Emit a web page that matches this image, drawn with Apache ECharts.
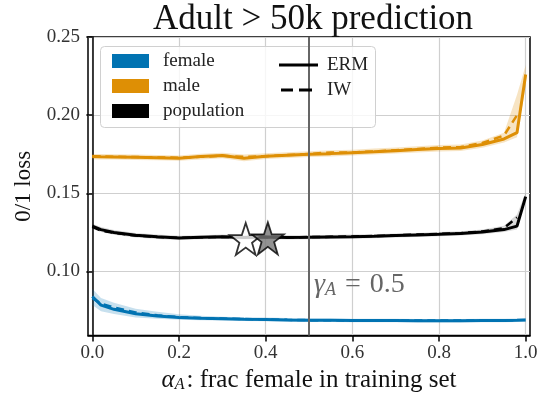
<!DOCTYPE html>
<html>
<head>
<meta charset="utf-8">
<script src="https://cdn.jsdelivr.net/npm/echarts@6/dist/echarts.min.js"></script>
<style>
  html, body { margin: 0; padding: 0; background: #fff; }
  #chart { width: 542px; height: 398px; }
</style>
</head>
<body>
<div id="chart"></div>
<script>
// alpha_A grid (frac female in training set)
const alpha = [0, 0.02, 0.05, 0.1, 0.15, 0.2, 0.25, 0.3, 0.35, 0.4, 0.45, 0.5, 0.55, 0.6, 0.65, 0.7, 0.75, 0.8, 0.85, 0.9, 0.95, 0.98, 1.0]

const femaleERM = [0.0840, 0.0785, 0.0758, 0.0730, 0.0716, 0.0706, 0.0701, 0.0698, 0.0695, 0.0693, 0.0690, 0.0688, 0.0688, 0.0687, 0.0686, 0.0686, 0.0685, 0.0685, 0.0685, 0.0686, 0.0687, 0.0688, 0.0690]
const femaleIW = [0.0830, 0.0795, 0.0770, 0.0738, 0.0720, 0.0708, 0.0702, 0.0699, 0.0696, 0.0694, 0.0691, 0.0689, 0.0688, 0.0687, 0.0687, 0.0686, 0.0686, 0.0686, 0.0686, 0.0686, 0.0687, 0.0689, null]
const femaleLo = [0.0785, 0.0745, 0.0728, 0.0706, 0.0697, 0.0691, 0.0688, 0.0686, 0.0683, 0.0681, 0.0679, 0.0677, 0.0677, 0.0676, 0.0675, 0.0675, 0.0674, 0.0674, 0.0674, 0.0675, 0.0676, 0.0677, 0.0678]
const femaleHi = [0.0890, 0.0830, 0.0800, 0.0762, 0.0742, 0.0726, 0.0717, 0.0711, 0.0707, 0.0705, 0.0702, 0.0699, 0.0699, 0.0698, 0.0697, 0.0697, 0.0696, 0.0696, 0.0696, 0.0697, 0.0698, 0.0699, 0.0702]

const maleERM = [0.1735, 0.1734, 0.1733, 0.1731, 0.1728, 0.1725, 0.1735, 0.1742, 0.1724, 0.1737, 0.1744, 0.1750, 0.1754, 0.1760, 0.1766, 0.1773, 0.1780, 0.1787, 0.1790, 0.1812, 0.1848, 0.1888, 0.2260]
const maleIW = [0.1738, 0.1736, 0.1734, 0.1732, 0.1730, 0.1728, 0.1734, 0.1740, 0.1734, 0.1738, 0.1745, 0.1752, 0.1762, 0.1762, 0.1768, 0.1776, 0.1783, 0.1792, 0.1796, 0.1822, 0.1870, 0.2000, null]
const maleLo = [0.1718, 0.1717, 0.1716, 0.1714, 0.1711, 0.1708, 0.1717, 0.1724, 0.1706, 0.1719, 0.1726, 0.1732, 0.1736, 0.1742, 0.1748, 0.1755, 0.1761, 0.1768, 0.1771, 0.1792, 0.1825, 0.1858, 0.2190]
const maleHi = [0.1752, 0.1751, 0.1750, 0.1748, 0.1745, 0.1742, 0.1753, 0.1760, 0.1748, 0.1756, 0.1763, 0.1769, 0.1776, 0.1779, 0.1786, 0.1793, 0.1801, 0.1809, 0.1813, 0.1838, 0.1888, 0.2130, 0.2320]

const popERM = [0.1290, 0.1268, 0.1250, 0.1232, 0.1222, 0.1215, 0.1219, 0.1222, 0.1218, 0.1220, 0.1218, 0.1219, 0.1221, 0.1223, 0.1226, 0.1230, 0.1234, 0.1238, 0.1243, 0.1252, 0.1268, 0.1290, 0.1479]
const popIW = [0.1285, 0.1262, 0.1247, 0.1230, 0.1221, 0.1216, 0.1219, 0.1221, 0.1220, 0.1220, 0.1219, 0.1220, 0.1222, 0.1224, 0.1227, 0.1231, 0.1236, 0.1240, 0.1245, 0.1256, 0.1278, 0.1345, null]
const popLo = [0.1274, 0.1252, 0.1235, 0.1218, 0.1208, 0.1202, 0.1206, 0.1208, 0.1205, 0.1207, 0.1205, 0.1206, 0.1208, 0.1210, 0.1213, 0.1217, 0.1221, 0.1225, 0.1230, 0.1238, 0.1252, 0.1268, 0.1455]
const popHi = [0.1306, 0.1284, 0.1265, 0.1246, 0.1236, 0.1229, 0.1232, 0.1236, 0.1232, 0.1233, 0.1232, 0.1232, 0.1234, 0.1236, 0.1239, 0.1243, 0.1247, 0.1252, 0.1257, 0.1268, 0.1292, 0.1365, 0.1505]

// star markers [alpha, loss]
const starWhite = [0.354, 0.1208]
const starGrey = [0.405, 0.1212]
const gammaA = 0.5

const xTicks = [0, 0.2, 0.4, 0.6, 0.8, 1.0]
const yTicks = [0.10, 0.15, 0.20, 0.25]

const FONT = 'Liberation Serif'
const BLUE = '#0173b2'
const ORANGE = '#de8f05'
const BLACK = '#000'
const STAR = 'path://M50,2 L61.5,36 L97,36 L68.5,57.5 L79,92 L50,71 L21,92 L31.5,57.5 L3,36 L38.5,36 Z'

const pairs = (ys) => alpha.map((a, i) => [a, ys[i]])

// shaded spread between lo and hi, drawn as one polygon through the axes
function band(lo, hi, color) {
  return {
    type: 'custom', silent: true, z: 1, clip: true,
    data: [[0.5, 0.1]],
    renderItem: (params, api) => {
      const top = alpha.map((a, i) => api.coord([a, hi[i]]))
      const bottom = alpha.map((a, i) => api.coord([a, lo[i]])).reverse()
      return { type: 'polygon', shape: { points: top.concat(bottom) }, style: { fill: color } }
    },
  }
}

function solid(name, ys, color) {
  return {
    name: name, type: 'line', data: pairs(ys), symbol: 'none', z: 3,
    itemStyle: { color: color },
    lineStyle: { color: color, width: 3 },
  }
}

function dashed(name, ys, color) {
  return {
    name: name, type: 'line', data: pairs(ys), symbol: 'none', z: 3,
    itemStyle: { color: color },
    lineStyle: { color: color, width: 2.5, type: [8, 5] },
  }
}

const legendText = { fontFamily: FONT, fontSize: 19, color: '#222', lineHeight: 20 }

const chart = echarts.init(document.getElementById('chart'))
chart.setOption({
  animation: false,
  title: {
    text: 'Adult > 50k prediction',
    left: 148, top: -3,
    textStyle: { fontFamily: FONT, fontSize: 35, fontWeight: 'normal', color: '#111' },
  },
  grid: {
    left: 88, right: 12, top: 37, bottom: 54,
    show: true, borderColor: '#000', borderWidth: 1.5, backgroundColor: 'transparent',
  },
  xAxis: {
    type: 'value', min: -0.01, max: 1.01,
    name: '{i|α}{s|A}{t|: frac female in training set}',
    nameLocation: 'middle', nameGap: 25,
    nameTextStyle: {
      fontFamily: FONT, fontSize: 25, color: '#111',
      rich: {
        i: { fontFamily: FONT, fontSize: 25, fontStyle: 'italic', color: '#111' },
        s: { fontFamily: FONT, fontSize: 16, fontStyle: 'italic', color: '#111', padding: [10, 2, 0, 0] },
        t: { fontFamily: FONT, fontSize: 25, color: '#111' },
      },
    },
    axisLine: { show: true, lineStyle: { color: '#000', width: 1.5 } },
    axisTick: { show: true, customValues: xTicks, length: 6, lineStyle: { color: '#000', width: 1.5 } },
    axisLabel: {
      customValues: xTicks, margin: 8,
      fontFamily: FONT, fontSize: 19, color: '#333',
      formatter: (v) => v.toFixed(1),
    },
    splitLine: { show: true, lineStyle: { color: '#cfcfcf', width: 1.2 } },
  },
  yAxis: {
    type: 'value', min: 0.059, max: 0.25,
    name: '0/1 loss', nameLocation: 'middle', nameGap: 46,
    nameTextStyle: { fontFamily: FONT, fontSize: 23, color: '#111' },
    axisLine: { show: true, lineStyle: { color: '#000', width: 1.5 } },
    axisTick: { show: true, customValues: yTicks, length: 6, lineStyle: { color: '#000', width: 1.5 } },
    axisLabel: {
      customValues: yTicks, margin: 8,
      fontFamily: FONT, fontSize: 19, color: '#333',
      formatter: (v) => v.toFixed(2),
    },
    splitLine: { show: true, lineStyle: { color: '#cfcfcf', width: 1.2 } },
  },
  legend: [
    {
      left: 107, top: 46, orient: 'vertical', z: 10,
      itemWidth: 37, itemHeight: 14, itemGap: 5,
      textStyle: { ...legendText, padding: [0, 0, 0, 9] },
      data: [
        { name: 'female', icon: 'rect' },
        { name: 'male', icon: 'rect' },
        { name: 'population', icon: 'rect' },
      ],
      selectedMode: false,
    },
    {
      left: 274, top: 50, z: 10,
      itemWidth: 39, itemHeight: 3,
      textStyle: { ...legendText, padding: [0, 0, 0, 4] },
      data: [{ name: 'ERM', icon: 'path://M0,0 H39 V3 H0 Z' }],
      selectedMode: false,
    },
    {
      left: 276, top: 75, z: 10,
      itemWidth: 31, itemHeight: 3,
      textStyle: { ...legendText, padding: [0, 0, 0, 10] },
      data: [{ name: 'IW', icon: 'path://M0,0 H12 V3 H0 Z M18,0 H31 V3 H18 Z' }],
      selectedMode: false,
    },
  ],
  graphic: [
    {
      type: 'rect', left: 100, top: 46, z: 5,
      shape: { width: 275, height: 81, r: 4 },
      style: { fill: 'rgba(255,255,255,0.8)', stroke: '#d0d0d0', lineWidth: 1 },
    },
    {
      type: 'text', left: 314, top: 271, z: 6,
      style: {
        text: '{g|γ}{s|A}{n|=}{v|0.5}',
        rich: {
          g: { fontFamily: FONT, fontSize: 28, fontStyle: 'italic', fill: '#666' },
          s: { fontFamily: FONT, fontSize: 18, fontStyle: 'italic', fill: '#666', padding: [10, 0, 0, 0] },
          n: { fontFamily: FONT, fontSize: 28, fill: '#666', padding: [0, 9, 0, 9] },
          v: { fontFamily: FONT, fontSize: 28, fill: '#666' },
        },
      },
    },
  ],
  series: [
    band(femaleLo, femaleHi, 'rgba(1,115,178,0.22)'),
    band(maleLo, maleHi, 'rgba(222,143,5,0.24)'),
    band(popLo, popHi, 'rgba(0,0,0,0.15)'),
    solid('female', femaleERM, BLUE),
    solid('male', maleERM, ORANGE),
    {
      ...solid('population', popERM, BLACK),
      markLine: {
        silent: true, symbol: 'none', animation: false,
        label: { show: false },
        lineStyle: { color: '#666', width: 2, type: 'solid' },
        data: [{ xAxis: gammaA }],
      },
    },
    dashed('female', femaleIW, BLUE),
    dashed('male', maleIW, ORANGE),
    dashed('population', popIW, BLACK),
    {
      type: 'scatter', data: [starWhite], symbol: STAR, symbolSize: 32, z: 4,
      itemStyle: { color: '#fff', borderColor: '#000', borderWidth: 1.8 },
    },
    {
      type: 'scatter', data: [starGrey], symbol: STAR, symbolSize: 32, z: 4,
      itemStyle: { color: '#777', borderColor: '#000', borderWidth: 1.8 },
    },
    { name: 'ERM', type: 'line', data: [], symbol: 'none', itemStyle: { color: '#000' }, lineStyle: { color: '#000', width: 3 } },
    { name: 'IW', type: 'line', data: [], symbol: 'none', itemStyle: { color: '#000' }, lineStyle: { color: '#000', width: 3, type: [8, 5] } },
  ],
})
</script>
</body>
</html>
